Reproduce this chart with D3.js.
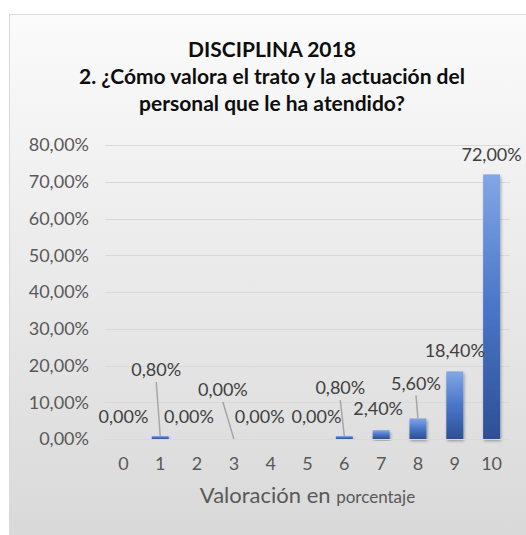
<!DOCTYPE html>
<html>
<head>
<meta charset="utf-8">
<script src="https://cdn.jsdelivr.net/npm/d3@7"></script>
<style>
  html, body { margin: 0; padding: 0; background: #fff; }
  svg { display: block; font-family: Lato, "Open Sans", sans-serif; }
</style>
</head>
<body>
<div id="chart"></div>
<script>
// data
var categories = ["0", "1", "2", "3", "4", "5", "6", "7", "8", "9", "10"];
var values = [0, 0.008, 0, 0, 0, 0, 0.008, 0.024, 0.056, 0.184, 0.72];
var yTicks = [0, 0.1, 0.2, 0.3, 0.4, 0.5, 0.6, 0.7, 0.8];
var titleLines = ["DISCIPLINA 2018", "2. ¿Cómo valora el trato y la actuación del", "personal que le ha atendido?"];

// label placement (pixels relative to bar top), and which ones get a leader line
var labelShift = [[0, -22], [-4, -66], [-8, -22], [-11, -49], [-11, -22], [9, -22],
                  [-4, -48], [-3, -21], [-2, -35], [0, -21], [0, -20]];
var leaders = [false, true, false, true, false, false, true, false, true, false, false];

var width = 526, height = 535;

var svg = d3.select("#chart").append("svg")
  .attr("width", width)
  .attr("height", height);

var defs = svg.append("defs");

var bg = defs.append("linearGradient")
  .attr("id", "bg-grad")
  .attr("gradientUnits", "userSpaceOnUse")
  .attr("x1", 0).attr("y1", 14).attr("x2", 0).attr("y2", 535);
bg.append("stop").attr("offset", "0%").attr("stop-color", "#fbfbfb");
bg.append("stop").attr("offset", "100%").attr("stop-color", "#d9d9d9");

var barGrad = defs.append("linearGradient")
  .attr("id", "bar-grad")
  .attr("x1", 0).attr("y1", 0).attr("x2", 0).attr("y2", 1);
barGrad.append("stop").attr("offset", "0%").attr("stop-color", "#82a6e6");
barGrad.append("stop").attr("offset", "50%").attr("stop-color", "#4a76c8");
barGrad.append("stop").attr("offset", "100%").attr("stop-color", "#2d4f95");

var shadow = defs.append("filter")
  .attr("id", "bar-shadow")
  .attr("x", "-50%").attr("y", "-10%").attr("width", "200%").attr("height", "130%");
shadow.append("feDropShadow")
  .attr("dx", 1).attr("dy", 2).attr("stdDeviation", 1.5)
  .attr("flood-color", "#000").attr("flood-opacity", 0.35);

// chart area
svg.append("rect")
  .attr("x", 9.5).attr("y", 14.5)
  .attr("width", 540).attr("height", 540)
  .attr("fill", "url(#bg-grad)")
  .attr("stroke", "#d9d9d9");

// title
var title = svg.append("text")
  .attr("text-anchor", "middle")
  .attr("font-weight", "bold")
  .attr("font-size", 21)
  .attr("fill", "#0d0d0d");
titleLines.forEach(function (t, i) {
  title.append("tspan")
    .attr("x", 272)
    .attr("y", 57 + i * 27)
    .text(t);
});

var x = d3.scaleBand()
  .domain(categories)
  .range([105, 510])
  .paddingInner(0.54)
  .paddingOuter(0.27);

var y = d3.scaleLinear()
  .domain([0, 0.8])
  .range([439, 145]);

var pct = function (v) {
  return d3.format(".2f")(v * 100).replace(".", ",") + "%";
};

// gridlines
svg.append("g")
  .selectAll("line")
  .data(yTicks.slice(1))
  .enter()
  .append("line")
  .attr("x1", 105).attr("x2", 510)
  .attr("y1", function (d) { return Math.round(y(d)) + 0.5; })
  .attr("y2", function (d) { return Math.round(y(d)) + 0.5; })
  .attr("stroke", "#d9d9d9")
  .attr("stroke-width", 1);

// y axis
var yAxis = svg.append("g")
  .attr("transform", "translate(89,0)")
  .call(d3.axisLeft(y).tickValues(yTicks).tickFormat(pct).tickSize(0).tickPadding(0));
yAxis.select(".domain").remove();
yAxis.selectAll("text")
  .attr("font-family", "Lato, sans-serif")
  .attr("font-size", 18)
  .attr("fill", "#595959");

// bars
svg.append("g")
  .selectAll("rect")
  .data(values)
  .enter()
  .append("rect")
  .attr("x", function (d, i) { return x(categories[i]); })
  .attr("y", function (d) { return y(d); })
  .attr("width", x.bandwidth())
  .attr("height", function (d) { return y(0) - y(d); })
  .attr("fill", "url(#bar-grad)")
  .attr("filter", "url(#bar-shadow)");

// x axis
var xAxis = svg.append("g")
  .attr("transform", "translate(0," + y(0) + ")")
  .call(d3.axisBottom(x).tickSize(0).tickPadding(18));
xAxis.select(".domain")
  .attr("d", "M105,0.5H510")
  .attr("stroke", "#d9d9d9");
xAxis.selectAll("text")
  .attr("font-family", "Lato, sans-serif")
  .attr("font-size", 18)
  .attr("fill", "#595959");

// leader lines
var cx = function (i) { return x(categories[i]) + x.bandwidth() / 2; };
svg.append("g")
  .selectAll("line")
  .data(values.map(function (v, i) { return { v: v, i: i }; }).filter(function (d) { return leaders[d.i]; }))
  .enter()
  .append("line")
  .attr("x1", function (d) { return cx(d.i) + labelShift[d.i][0]; })
  .attr("y1", function (d) { return y(d.v) + labelShift[d.i][1] + 12; })
  .attr("x2", function (d) { return cx(d.i); })
  .attr("y2", function (d) { return y(d.v); })
  .attr("stroke", "#a6a6a6")
  .attr("stroke-width", 1.5);

// data labels
svg.append("g")
  .selectAll("text")
  .data(values)
  .enter()
  .append("text")
  .attr("x", function (d, i) { return cx(i) + labelShift[i][0]; })
  .attr("y", function (d, i) { return y(d) + labelShift[i][1]; })
  .attr("dy", "0.35em")
  .attr("text-anchor", "middle")
  .attr("font-size", 18)
  .attr("fill", "#404040")
  .text(pct);

// axis title
var xt = svg.append("text")
  .attr("x", (105 + 510) / 2)
  .attr("y", 503)
  .attr("text-anchor", "middle")
  .attr("fill", "#595959");
xt.append("tspan").attr("font-size", 22).text("Valoración en ");
xt.append("tspan").attr("font-size", 17).text("porcentaje");
</script>
</body>
</html>
